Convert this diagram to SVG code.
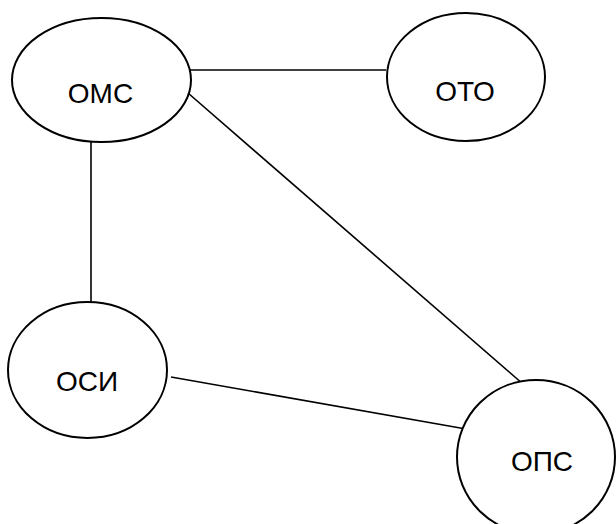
<svg xmlns="http://www.w3.org/2000/svg" width="616" height="524" viewBox="0 0 616 524">
<style>
.node ellipse{fill:#fff;stroke:#000;stroke-width:2}
.node text{font-family:"Liberation Sans","Open Sans",sans-serif;font-size:28px;fill:#000;text-anchor:middle}
#connectors line{stroke:#000;stroke-width:1.6}
</style>
<rect width="616" height="524" fill="#fff"/>
<g id="connectors">
<line x1="186" y1="70" x2="386" y2="70"/>
<line x1="91" y1="142" x2="91" y2="302"/>
<line x1="188" y1="93" x2="523" y2="384"/>
<line x1="171" y1="377" x2="466" y2="429"/>
</g>
<g id="node-omc" class="node">
<ellipse cx="101.5" cy="80" rx="89.5" ry="62"/>
<text x="100.5" y="103">ОМС</text>
</g>
<g id="node-oto" class="node">
<ellipse cx="466" cy="77" rx="79" ry="64"/>
<text x="465" y="101">ОТО</text>
</g>
<g id="node-osi" class="node">
<ellipse cx="87.5" cy="370" rx="79.5" ry="68"/>
<text x="87" y="391">ОСИ</text>
</g>
<g id="node-ops" class="node">
<ellipse cx="536" cy="457" rx="79" ry="77"/>
<text x="542" y="471">ОПС</text>
</g>
</svg>
